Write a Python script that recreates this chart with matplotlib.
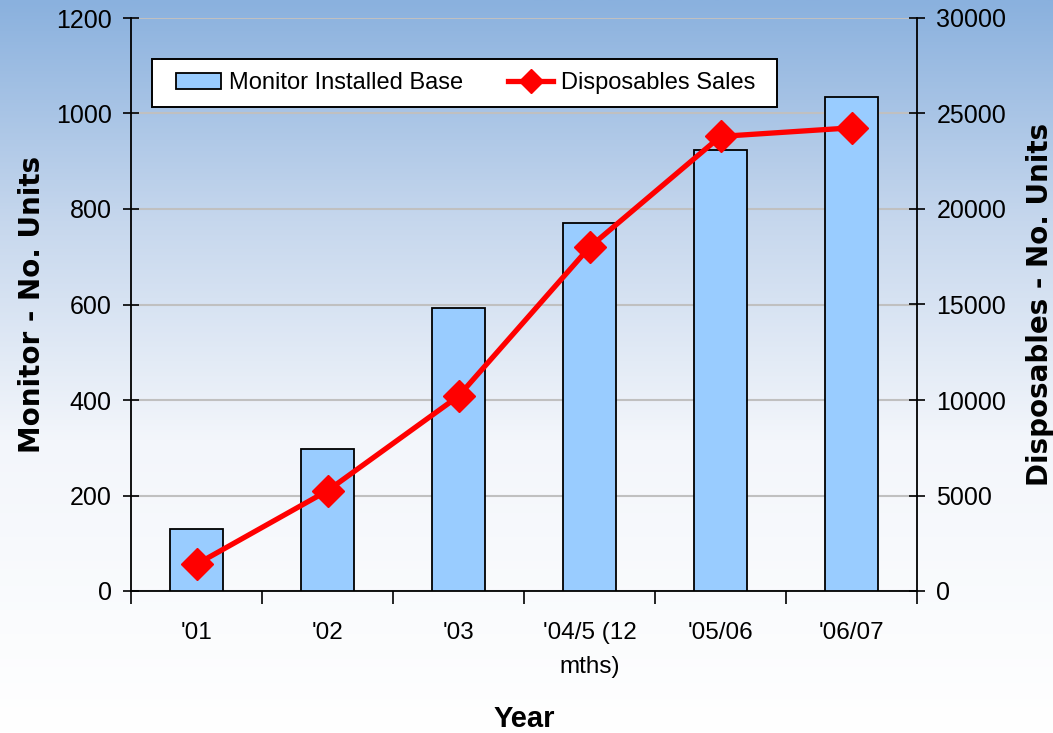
import numpy as np
import matplotlib
matplotlib.use("Agg")
import matplotlib.pyplot as plt
from matplotlib.colors import LinearSegmentedColormap
from matplotlib.lines import Line2D
from matplotlib.patches import Patch, Rectangle

categories = ["'01", "'02", "'03", "'04/5 (12\nmths)", "'05/06", "'06/07"]
monitor_base = [130, 298, 593, 770, 923, 1034]
disposables = [1400, 5250, 10200, 18000, 23800, 24250]
left_ticks = [0, 200, 400, 600, 800, 1000, 1200]
right_ticks = [0, 5000, 10000, 15000, 20000, 25000, 30000]

sans = ['Liberation Sans', 'DejaVu Sans']
heavy = ['DejaVu Sans']

W, H = 1053, 733
fig = plt.figure(figsize=(W/100, H/100), dpi=100)

# background gradient
bg = fig.add_axes([0, 0, 1, 1], zorder=-10)
grad = np.linspace(0, 1, 256).reshape(-1, 1)
cmap = LinearSegmentedColormap.from_list(
    'bg', [(0.0, '#8ab1de'), (0.3, '#c6d7ed'), (0.6, '#f3f6fb'), (1.0, '#ffffff')])
bg.imshow(grad, aspect='auto', cmap=cmap, extent=[0, 1, 0, 1], origin='upper')
bg.set_axis_off()

ax = fig.add_axes([131/W, 1-591/H, (917-131)/W, (591-18)/H])
ax.patch.set_alpha(0)
x = np.arange(len(categories))
ax.bar(x, monitor_base, width=0.405, color='#99ccff', edgecolor='black', linewidth=1.3, zorder=3)
ax.set_xlim(-0.5, len(categories)-0.5)
ax.set_ylim(0, 1200)
ax.set_yticks(left_ticks)
ax.set_yticklabels([str(t) for t in left_ticks], fontsize=18, family=sans)
ax.yaxis.grid(True, color='#c0c0c0', linewidth=1.5, zorder=0)
ax.set_axisbelow(True)
ax.set_xticks(np.arange(len(categories)+1) - 0.5)
ax.set_xticklabels([])
ax.set_xticks(x, minor=True)
ax.set_xticklabels(categories, minor=True, fontsize=17.5, family=sans, linespacing=1.75)
ax.tick_params(axis='x', which='major', direction='out', length=9, width=1.2)
ax.tick_params(axis='x', which='minor', length=0, pad=22)
ax.tick_params(axis='y', direction='inout', length=12, width=1.2, pad=8)
for s in ['top', 'right']:
    ax.spines[s].set_visible(False)
for s in ['left', 'bottom']:
    ax.spines[s].set_linewidth(1.3)
ax.set_ylabel('Monitor - No. Units', fontsize=20, fontweight='bold', family=heavy, labelpad=7)
ax.set_xlabel('Year', fontsize=21, fontweight='bold', family=sans, labelpad=19)

ax2 = ax.twinx()
ax2.plot(x, disposables, color='#ff0000', linewidth=3.8, marker='D', markersize=16,
         markerfacecolor='#ff0000', markeredgecolor='#ff0000', zorder=5)
ax2.set_ylim(0, 30000)
ax2.set_yticks(right_ticks)
ax2.set_yticklabels([str(t) for t in right_ticks], fontsize=18, family=sans)
ax2.tick_params(axis='y', direction='inout', length=12, width=1.2, pad=8)
for s in ['top', 'left', 'bottom']:
    ax2.spines[s].set_visible(False)
ax2.spines['right'].set_linewidth(1.3)
ax2.set_ylabel('Disposables - No. Units', fontsize=20, fontweight='bold',
               family=heavy, labelpad=14)

# legend frame
fig.patches.append(Rectangle((152/W, 1-107/H), (777-152)/W, 48/H, transform=fig.transFigure,
                             facecolor='white', edgecolor='black', linewidth=1.4, zorder=20))
handles = [Patch(facecolor='#99ccff', edgecolor='black', linewidth=1.3),
           Line2D([0], [0], color='#ff0000', linewidth=3.8, marker='D', markersize=12)]
leg = fig.legend(handles, ['Monitor Installed Base', 'Disposables Sales'],
                 loc='center left', bbox_to_anchor=(176/W, 1-83/H),
                 ncol=2, frameon=False,
                 prop={'family': sans, 'size': 17}, borderpad=0,
                 handlelength=1.9, handleheight=0.65, columnspacing=1.9, handletextpad=0.35,
                 borderaxespad=0)
leg.set_zorder(21)

fig.savefig('out.png', dpi=100)
